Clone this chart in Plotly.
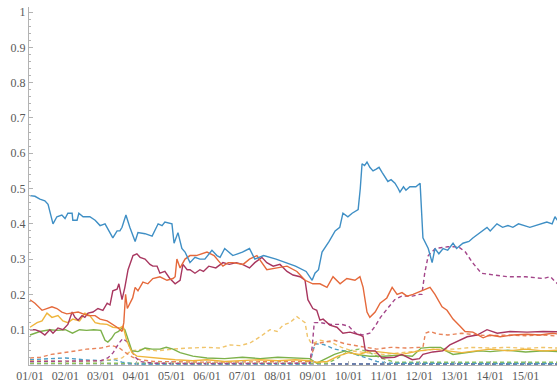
import plotly.graph_objects as go

# Time axis in years since the first label (01/01 = 0)
tick_labels = ["01/01", "02/01", "03/01", "04/01", "05/01", "06/01", "07/01", "08/01",
               "09/01", "10/01", "11/01", "12/01", "13/01", "14/01", "15/01"]
y_ticks = [0.1, 0.2, 0.3, 0.4, 0.5, 0.6, 0.7, 0.8, 0.9, 1.0]
y_tick_text = ["0.1", "0.2", "0.3", "0.4", "0.5", "0.6", "0.7", "0.8", "0.9", "1"]

# ---- solid series ----
blue_t = [0, 0.14, 0.28, 0.42, 0.51, 0.65, 0.76, 0.9, 0.99, 1.07, 1.19, 1.21, 1.33, 1.38, 1.5,
          1.69, 1.84, 1.98, 2.12, 2.2, 2.34, 2.46, 2.54, 2.6, 2.71, 2.82, 2.97, 3.05, 3.25, 3.45,
          3.62, 3.73, 3.81, 4.01, 4.07, 4.18, 4.29, 4.38, 4.52, 4.66, 4.8, 4.94, 5.14, 5.28, 5.37,
          5.5, 5.73, 6.0, 6.2, 6.35, 6.6, 6.95, 7.2, 7.5, 7.8, 7.97, 8.05, 8.15, 8.25, 8.45, 8.62,
          8.75, 8.84, 8.98, 9.1, 9.27, 9.33, 9.38, 9.45, 9.52, 9.6, 9.69, 9.78, 9.86, 9.95, 10.11,
          10.2, 10.31, 10.4, 10.45, 10.55, 10.62, 10.73, 10.9, 11.02, 11.1, 11.25, 11.36, 11.44,
          11.55, 11.67, 11.8, 11.95, 12.05, 12.23, 12.4, 12.51, 12.7, 12.91, 13.0, 13.19, 13.35,
          13.5, 13.64, 13.8, 14.12, 14.3, 14.6, 14.75, 14.83, 14.9]
blue_v = [0.48, 0.478, 0.47, 0.465, 0.455, 0.40, 0.42, 0.425, 0.415, 0.43, 0.43, 0.41, 0.41, 0.43, 0.42,
          0.42, 0.41, 0.395, 0.40, 0.385, 0.36, 0.38, 0.38, 0.39, 0.425, 0.39, 0.35, 0.375, 0.372, 0.365,
          0.40, 0.395, 0.405, 0.40, 0.345, 0.375, 0.33, 0.32, 0.29, 0.305, 0.30, 0.30, 0.325, 0.31, 0.305,
          0.33, 0.31, 0.32, 0.33, 0.30, 0.31, 0.30, 0.29, 0.28, 0.265, 0.24, 0.26, 0.27, 0.32, 0.35, 0.38,
          0.39, 0.43, 0.42, 0.43, 0.44, 0.50, 0.57, 0.565, 0.575, 0.56, 0.55, 0.555, 0.56, 0.545, 0.52,
          0.525, 0.515, 0.50, 0.49, 0.505, 0.495, 0.505, 0.505, 0.515, 0.36, 0.33, 0.29, 0.33,
          0.315, 0.33, 0.325, 0.345, 0.33, 0.345, 0.35, 0.36, 0.375, 0.39, 0.38, 0.40, 0.39,
          0.395, 0.39, 0.40, 0.39, 0.395, 0.405, 0.40, 0.42, 0.41]

orange_t = [0, 0.14, 0.34, 0.48, 0.62, 0.76, 0.9, 1.04, 1.19, 1.36, 1.5, 1.64, 1.84, 1.98, 2.18, 2.34,
            2.49, 2.6, 2.65, 2.7, 2.75, 2.9, 2.97, 3.05, 3.19, 3.33, 3.47, 3.67, 3.87, 4.04, 4.1, 4.15,
            4.24, 4.38, 4.52, 4.7, 5.0, 5.2, 5.45, 5.6, 5.73, 6.02, 6.2, 6.41, 6.55, 6.69, 6.98, 7.26,
            7.54, 7.77, 7.99, 8.19, 8.39, 8.56, 8.76, 8.95, 9.18, 9.32, 9.41, 9.52, 9.6, 9.75, 9.89,
            10.08, 10.23, 10.37, 10.51, 10.65, 10.82, 11.07, 11.21, 11.3, 11.44, 11.64, 11.78, 11.95,
            12.15, 12.29, 12.51, 12.8, 12.99, 13.28, 13.64, 14.04, 14.41, 14.77, 14.9]
orange_v = [0.185, 0.175, 0.155, 0.16, 0.165, 0.16, 0.15, 0.145, 0.147, 0.15, 0.145, 0.14, 0.14, 0.13, 0.125, 0.115,
            0.105, 0.095, 0.12, 0.20, 0.16, 0.19, 0.22, 0.21, 0.235, 0.23, 0.245, 0.25, 0.24, 0.245, 0.25, 0.30,
            0.275, 0.30, 0.31, 0.31, 0.32, 0.31, 0.28, 0.29, 0.29, 0.285, 0.30, 0.31, 0.29, 0.27, 0.275, 0.28,
            0.265, 0.24, 0.23, 0.23, 0.22, 0.25, 0.23, 0.245, 0.24, 0.25, 0.22, 0.15, 0.135, 0.15, 0.175,
            0.19, 0.22, 0.20, 0.205, 0.195, 0.20, 0.21, 0.215, 0.22, 0.20, 0.165, 0.155, 0.13,
            0.11, 0.095, 0.093, 0.077, 0.085, 0.08, 0.085, 0.087, 0.085, 0.09, 0.088]

crimson_t = [0, 0.14, 0.28, 0.42, 0.56, 0.65, 0.79, 0.93, 1.07, 1.19, 1.27, 1.36, 1.47, 1.55, 1.64, 1.78,
             1.92, 2.06, 2.18, 2.26, 2.34, 2.46, 2.51, 2.6, 2.68, 2.77, 2.91, 3.02, 3.11, 3.25, 3.39, 3.47,
             3.59, 3.67, 3.81, 3.95, 4.1, 4.24, 4.32, 4.44, 4.52, 4.66, 4.8, 4.9, 5.05, 5.25, 5.45, 5.63,
             5.83, 6.0, 6.2, 6.35, 6.55, 6.69, 6.87, 7.06, 7.26, 7.43, 7.63, 7.77, 7.85, 7.99, 8.1, 8.19,
             8.28, 8.47, 8.67, 8.84, 9.04, 9.24, 9.32, 9.41, 9.47, 9.6, 9.75, 9.94, 10.3, 10.5, 10.8, 11.0,
             11.1, 11.38, 11.66, 11.86, 12.15, 12.35, 12.63, 12.91, 13.2, 13.56, 14.04, 14.49, 14.9]
crimson_v = [0.10, 0.10, 0.095, 0.085, 0.10, 0.09, 0.105, 0.10, 0.115, 0.15, 0.135, 0.127, 0.14, 0.135, 0.147, 0.15,
             0.16, 0.155, 0.175, 0.17, 0.21, 0.215, 0.23, 0.185, 0.22, 0.27, 0.31, 0.315, 0.305, 0.30, 0.285, 0.28,
             0.28, 0.26, 0.265, 0.245, 0.23, 0.24, 0.285, 0.27, 0.27, 0.26, 0.27, 0.265, 0.28, 0.275, 0.29, 0.285,
             0.29, 0.285, 0.275, 0.29, 0.305, 0.29, 0.28, 0.285, 0.265, 0.255, 0.25, 0.24, 0.185, 0.16, 0.155, 0.127,
             0.13, 0.113, 0.107, 0.09, 0.093, 0.088, 0.085, 0.08, 0.043, 0.04, 0.04, 0.02, 0.022, 0.03, 0.015, 0.018,
             0.03, 0.037, 0.04, 0.057, 0.07, 0.08, 0.085, 0.10, 0.09, 0.095, 0.093, 0.095, 0.094]

yellow_t = [0, 0.2, 0.34, 0.48, 0.62, 0.79, 0.93, 1.07, 1.21, 1.4, 1.55, 1.69, 1.84, 1.98, 2.18, 2.34,
            2.54, 2.63, 2.73, 2.88, 3.02, 3.3, 3.6, 4.1, 4.6, 5.0, 5.5, 6.0, 6.5, 7.0, 7.5, 7.9, 8.1,
            8.4, 8.7, 9.0, 9.3, 9.6, 10.0, 10.5, 11.0, 11.4, 11.8, 12.2, 12.6, 13.0, 13.5, 14.0, 14.5, 14.9]
yellow_v = [0.107, 0.12, 0.125, 0.147, 0.135, 0.14, 0.125, 0.12, 0.13, 0.125, 0.147, 0.14, 0.12, 0.117, 0.115, 0.107,
            0.105, 0.11, 0.07, 0.035, 0.025, 0.022, 0.02, 0.015, 0.012, 0.015, 0.01, 0.012, 0.015, 0.012, 0.015, 0.012, 0.008,
            0.01, 0.025, 0.035, 0.03, 0.04, 0.035, 0.03, 0.04, 0.045, 0.04, 0.035, 0.04, 0.045, 0.04, 0.045, 0.04, 0.042]

green_t = [0, 0.14, 0.28, 0.56, 0.76, 1.0, 1.2, 1.4, 1.6, 1.8, 2.0, 2.12, 2.2, 2.3, 2.4, 2.5, 2.6, 2.68,
           2.77, 2.88, 3.05, 3.25, 3.45, 3.67, 3.85, 4.04, 4.24, 4.45, 4.6, 5.0, 5.5, 6.0, 6.5, 7.0, 7.5,
           7.9, 8.1, 8.3, 8.6, 8.9, 9.2, 9.6, 10.0, 10.4, 10.8, 11.05, 11.3, 11.6, 11.75, 11.95, 12.3,
           12.7, 13.0, 13.5, 14.0, 14.5, 14.9]
green_v = [0.085, 0.09, 0.095, 0.10, 0.098, 0.10, 0.09, 0.10, 0.098, 0.10, 0.098, 0.07, 0.065, 0.075, 0.09, 0.095, 0.105, 0.10,
           0.07, 0.04, 0.038, 0.048, 0.045, 0.045, 0.05, 0.045, 0.035, 0.03, 0.025, 0.02, 0.018, 0.022, 0.018, 0.022, 0.02,
           0.018, 0.005, 0.015, 0.03, 0.04, 0.03, 0.025, 0.025, 0.028, 0.025, 0.048, 0.05, 0.05, 0.04, 0.03, 0.035,
           0.04, 0.038, 0.042, 0.037, 0.04, 0.038]

# ---- dashed series ----
purple_t = [0, 1.0, 2.0, 2.2, 2.35, 2.5, 2.62, 2.75, 2.85, 2.95, 3.1, 3.5, 5.0, 7.0, 7.9, 7.97, 8.03, 8.2,
            8.5, 8.8, 9.0, 9.2, 9.4, 9.6, 9.75, 9.9, 10.1, 10.3, 10.5, 10.8, 11.0, 11.07, 11.15, 11.25,
            11.45, 11.8, 12.1, 12.3, 12.5, 12.75, 13.1, 13.5, 14.0, 14.5, 14.7, 14.9]
purple_v = [0.01, 0.01, 0.012, 0.02, 0.035, 0.06, 0.075, 0.065, 0.045, 0.025, 0.01, 0.005, 0.004, 0.004, 0.005, 0.05, 0.12, 0.12,
            0.115, 0.115, 0.11, 0.09, 0.085, 0.09, 0.11, 0.135, 0.16, 0.185, 0.195, 0.195, 0.20, 0.20, 0.26, 0.31,
            0.33, 0.335, 0.335, 0.32, 0.29, 0.26, 0.255, 0.25, 0.25, 0.245, 0.25, 0.23]

orange_dash_t = [0, 0.3, 0.6, 1.0, 1.3, 1.6, 2.0, 2.3, 2.5, 2.7, 2.9, 3.1, 3.5, 5.0, 7.0, 7.9, 8.05, 8.3,
                 8.6, 8.9, 9.2, 9.5, 9.8, 10.2, 10.6, 11.0, 11.1, 11.17, 11.3, 11.5, 11.8, 12.2, 12.6,
                 13.0, 13.5, 14.0, 14.5, 14.9]
orange_dash_v = [0.02, 0.022, 0.03, 0.035, 0.04, 0.045, 0.048, 0.055, 0.05, 0.035, 0.022, 0.015, 0.01, 0.008, 0.008, 0.01, 0.06, 0.065,
                 0.07, 0.06, 0.055, 0.05, 0.045, 0.05, 0.048, 0.05, 0.05, 0.09, 0.095, 0.088, 0.085, 0.09, 0.085,
                 0.083, 0.085, 0.083, 0.085, 0.082]

yellow_dash_t = [0, 1.0, 2.0, 2.6, 2.85, 3.2, 3.6, 4.0, 4.5, 5.0, 5.37, 5.65, 5.93, 6.21, 6.5, 6.78, 6.98,
                 7.15, 7.34, 7.54, 7.63, 7.77, 7.84, 7.95, 8.2, 8.5, 8.8, 9.1, 9.5, 10.0, 10.5, 11.0, 11.5,
                 12.0, 12.5, 13.0, 13.5, 14.0, 14.5, 14.9]
yellow_dash_v = [0.012, 0.01, 0.012, 0.02, 0.04, 0.045, 0.04, 0.045, 0.048, 0.05, 0.048, 0.057, 0.055, 0.062, 0.08, 0.10, 0.095,
                 0.113, 0.12, 0.137, 0.13, 0.12, 0.08, 0.06, 0.07, 0.065, 0.05, 0.04, 0.035, 0.03, 0.035, 0.04, 0.045,
                 0.045, 0.05, 0.048, 0.05, 0.047, 0.05, 0.048]

teal_dash_t = [0, 0.5, 1.0, 1.5, 2.0, 2.4, 2.6, 3.0, 7.9, 8.05, 8.3, 8.6, 8.9, 9.2, 9.5, 9.8, 10.2, 14.9]
teal_dash_v = [0.015, 0.018, 0.02, 0.015, 0.012, 0.015, 0.008, 0.003, 0.003, 0.06, 0.058, 0.045, 0.04, 0.03, 0.02, 0.01, 0.005, 0.004]

green_dash_t = [0, 8.4, 8.7, 9.0, 9.3, 9.6, 9.9, 10.3, 14.9]
green_dash_v = [0.005, 0.005, 0.02, 0.04, 0.045, 0.035, 0.02, 0.008, 0.008]

navy_dash_t = [0, 3.0, 6.0, 9.0, 12.0, 14.9]
navy_dash_v = [0.004, 0.003, 0.003, 0.003, 0.003, 0.003]

fig = go.Figure()

dashed = [
    (navy_dash_t, navy_dash_v, "#3d5590"),
    (green_dash_t, green_dash_v, "#8cc05a"),
    (teal_dash_t, teal_dash_v, "#4b9cc4"),
    (yellow_dash_t, yellow_dash_v, "#f0c46a"),
    (orange_dash_t, orange_dash_v, "#e8845a"),
    (purple_t, purple_v, "#a4468a"),
]
for t, v, c in dashed:
    fig.add_trace(go.Scatter(x=t, y=v, mode="lines",
                             line=dict(color=c, width=1.4, dash="4px,3px")))

solid = [
    (green_t, green_v, "#7db14a"),
    (yellow_t, yellow_v, "#efb53c"),
    (crimson_t, crimson_v, "#a8365f"),
    (orange_t, orange_v, "#e5693b"),
    (blue_t, blue_v, "#3f8fc5"),
]
for t, v, c in solid:
    fig.add_trace(go.Scatter(x=t, y=v, mode="lines", line=dict(color=c, width=1.4)))

axis_gray = "#b3b3b3"
label_font = dict(family="'Liberation Serif', 'DejaVu Serif', serif", size=12, color="#5a5a5a")

fig.update_layout(
    width=557, height=387,
    margin=dict(l=29, r=0, t=7, b=22),
    paper_bgcolor="white", plot_bgcolor="white",
    showlegend=False,
    font=label_font,
    xaxis=dict(
        range=[-0.028, 14.887],
        tickvals=list(range(len(tick_labels))), ticktext=tick_labels,
        showgrid=False, zeroline=False,
        showline=True, linecolor=axis_gray, linewidth=1,
        ticks="inside", ticklen=4, tickcolor=axis_gray,
        tickfont=label_font,
    ),
    yaxis=dict(
        range=[0, 1.0142],
        tickvals=y_ticks, ticktext=y_tick_text,
        showgrid=False, zeroline=False,
        showline=True, linecolor=axis_gray, linewidth=1,
        ticks="inside", ticklen=4, tickcolor=axis_gray,
        minor=dict(ticks="inside", ticklen=2, dtick=0.02, tick0=0, tickcolor=axis_gray, showgrid=False),
        tickfont=label_font,
    ),
)

fig.write_html("out.html")
